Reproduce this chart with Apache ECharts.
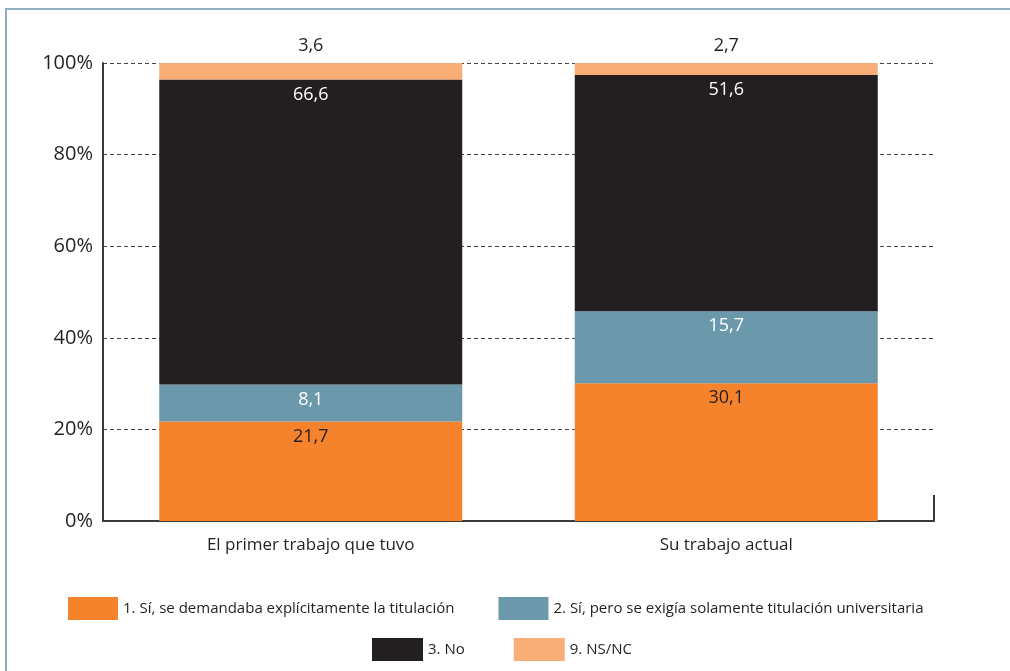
<!DOCTYPE html>
<html>
<head>
<meta charset="utf-8">
<script src="https://cdn.jsdelivr.net/npm/echarts@6/dist/echarts.min.js"></script>
<style>
  html, body { margin: 0; padding: 0; background: #fff; }
  #chart { width: 1010px; height: 671px; }
</style>
</head>
<body>
<div id="chart"></div>
<script>
  var categories = ['El primer trabajo que tuvo', 'Su trabajo actual'];
  var seriesNames = [
    '1. Sí, se demandaba explícitamente la titulación',
    '2. Sí, pero se exigía solamente titulación universitaria',
    '3. No',
    '9. NS/NC'
  ];
  var siExplicita = [21.7, 30.1];
  var siUniversitaria = [8.1, 15.7];
  var no = [66.6, 51.6];
  var nsnc = [3.6, 2.7];
  var colors = ['#f4832b', '#6b99ab', '#231f20', '#f9ae78'];
  var labelColors = ['#231f20', '#ffffff', '#ffffff', '#231f20'];

  var font = '"Open Sans", "Noto Sans", sans-serif';
  var grid = { left: 103, right: 76, top: 63, bottom: 150 };

  function fmt(p) { return String(p.value).replace('.', ','); }

  var values = [siExplicita, siUniversitaria, no, nsnc];
  var series = values.map(function (vals, i) {
    return {
      name: seriesNames[i],
      type: 'bar',
      stack: 'total',
      barWidth: 303,
      data: vals,
      itemStyle: { color: colors[i] },
      label: {
        show: true,
        position: i === 3 ? 'top' : 'insideTop',
        distance: i === 3 ? 8 : 6,
        color: labelColors[i],
        fontFamily: font,
        fontSize: 18,
        formatter: fmt
      }
    };
  });

  var legendText = { fontSize: 15, color: '#231f20', fontFamily: font };

  var chart = echarts.init(document.getElementById('chart'));
  chart.setOption({
    animation: false,
    textStyle: { fontFamily: font, color: '#231f20' },
    grid: grid,
    legend: [
      {
        data: seriesNames.slice(0, 2),
        left: 68, top: 597, padding: 0,
        itemWidth: 50, itemHeight: 23, itemGap: 44,
        icon: 'rect',
        textStyle: legendText
      },
      {
        data: seriesNames.slice(2),
        left: 372, top: 638, padding: 0,
        itemWidth: 51, itemHeight: 23, itemGap: 49,
        icon: 'rect',
        textStyle: legendText
      }
    ],
    xAxis: {
      type: 'category',
      data: categories,
      axisLine: { lineStyle: { color: '#3a3a3a', width: 2 } },
      axisTick: { show: false },
      axisLabel: { fontSize: 17, color: '#231f20', margin: 16 }
    },
    yAxis: {
      type: 'value',
      min: 0, max: 100, interval: 20,
      axisLine: { show: true, lineStyle: { color: '#3a3a3a', width: 2 } },
      axisTick: { show: false },
      axisLabel: { fontSize: 20, color: '#231f20', formatter: '{value}%', margin: 10 },
      splitLine: { lineStyle: { color: '#444', type: [4, 3], width: 1 } }
    },
    series: series
  });

  // decorative frame and the small tick at the right end of the x axis
  var w = chart.getWidth(), h = chart.getHeight();
  var xr = w - grid.right, yb = h - grid.bottom;
  chart.setOption({
    graphic: [
      {
        type: 'polyline', silent: true,
        shape: { points: [[6, h + 5], [6, 9], [w + 5, 9]] },
        style: { stroke: '#8fb0c0', lineWidth: 2, fill: null }
      },
      {
        type: 'line', silent: true,
        shape: { x1: xr, y1: yb, x2: xr, y2: yb - 26 },
        style: { stroke: '#3a3a3a', lineWidth: 2 }
      }
    ]
  });
</script>
</body>
</html>
